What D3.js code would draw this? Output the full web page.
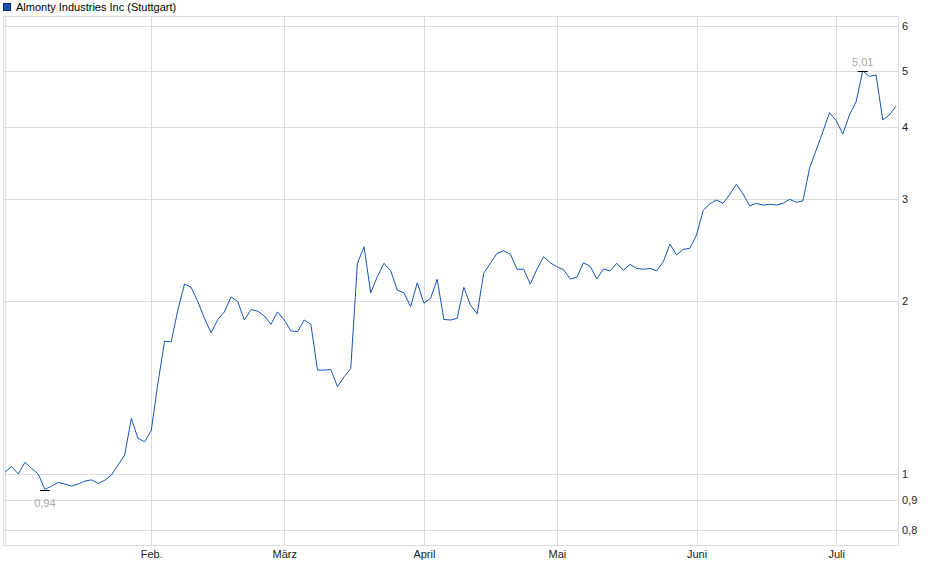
<!DOCTYPE html>
<html>
<head>
<meta charset="utf-8">
<script src="https://cdn.jsdelivr.net/npm/d3@7"></script>
<style>
  body { margin: 0; background: #fff; }
  svg { font-family: "Liberation Sans", Arial, sans-serif; }
</style>
</head>
<body>
<div id="chart-container"></div>
<script>
// Trading-day closes, 2 Jan 2025 .. 14 Jul 2025 (EUR)
const prices = [
  1.007, 1.031, 1.0, 1.048, 1.023, 1.0, 0.94, 0.953, 0.967, 0.961,
  0.953, 0.961, 0.972, 0.977, 0.963, 0.975, 0.996, 1.036, 1.079, 1.249,
  1.153, 1.138, 1.19, 1.44, 1.7, 1.697, 1.927, 2.137, 2.109, 1.993,
  1.863, 1.759, 1.855, 1.912, 2.03, 1.993, 1.851, 1.93, 1.918, 1.881,
  1.82, 1.912, 1.851, 1.772, 1.767, 1.851, 1.82, 1.515, 1.515, 1.519,
  1.418, 1.475, 1.525, 2.322, 2.481, 2.064, 2.201, 2.322, 2.254, 2.086,
  2.064, 1.952, 2.148, 1.98, 2.017, 2.178, 1.855, 1.851, 1.863, 2.109,
  1.965, 1.896, 2.231, 2.322, 2.416, 2.44, 2.41, 2.267, 2.267, 2.137,
  2.267, 2.384, 2.327, 2.289, 2.264, 2.18, 2.196, 2.327, 2.295, 2.181,
  2.27, 2.252, 2.322, 2.258, 2.312, 2.275, 2.267, 2.275, 2.252, 2.335,
  2.508, 2.401, 2.455, 2.465, 2.6, 2.87, 2.945, 2.99, 2.951, 3.059,
  3.184, 3.063, 2.919, 2.951, 2.93, 2.94, 2.93, 2.951, 2.999, 2.963,
  2.98, 3.394, 3.652, 3.93, 4.24, 4.106, 3.894, 4.2, 4.43, 5.01,
  4.9, 4.93, 4.12, 4.2, 4.35
];

// first trading day of each month (index into prices)
const monthIndex = [0, 22, 42, 63, 83, 104, 125];
const monthLabels = ["", "Feb.", "März", "April", "Mai", "Juni", "Juli"];

const yTicks = [0.8, 0.9, 1, 2, 3, 4, 5, 6];

const title = "Almonty Industries Inc (Stuttgart)";

const width = 940;
const height = 579;
const plot = { left: 3, right: 898, top: 16, bottom: 545 };

const de = d3.formatLocale({ decimal: ",", thousands: ".", grouping: [3], currency: ["", " €"] });
const fmtTick = de.format("~g");
const fmtPrice = de.format(".2f");

const svg = d3
  .select("#chart-container")
  .append("svg")
  .attr("width", width)
  .attr("height", height);

const x = d3.scaleLinear().domain([-0.3, prices.length - 0.7]).range([plot.left, plot.right]);
const y = d3.scaleLog().domain([0.753, 6.24]).range([plot.bottom, plot.top]);

const gridColor = "#dcdcdc";

// horizontal grid
svg
  .append("g")
  .selectAll("line")
  .data(yTicks)
  .enter()
  .append("line")
  .attr("x1", plot.left)
  .attr("x2", plot.right)
  .attr("y1", (d) => Math.round(y(d)) + 0.5)
  .attr("y2", (d) => Math.round(y(d)) + 0.5)
  .style("stroke", gridColor);

// vertical grid
svg
  .append("g")
  .selectAll("line")
  .data(monthIndex)
  .enter()
  .append("line")
  .attr("x1", (d) => Math.round(x(d)) + 0.5)
  .attr("x2", (d) => Math.round(x(d)) + 0.5)
  .attr("y1", plot.top)
  .attr("y2", plot.bottom)
  .style("stroke", gridColor);

// frame
svg
  .append("rect")
  .attr("x", plot.left + 0.5)
  .attr("y", plot.top + 0.5)
  .attr("width", plot.right - plot.left)
  .attr("height", plot.bottom - plot.top)
  .style("fill", "none")
  .style("stroke", gridColor);

// y axis (right)
const yAxis = d3.axisRight(y).tickValues(yTicks).tickFormat(fmtTick).tickSize(0).tickPadding(4);
svg
  .append("g")
  .attr("transform", `translate(${plot.right},0)`)
  .call(yAxis)
  .call((g) => g.select(".domain").remove())
  .selectAll("text")
  .style("font-size", "11px")
  .style("fill", "#222")
  .attr("font-family", null);

// x axis (bottom)
const xAxis = d3
  .axisBottom(x)
  .tickValues(monthIndex)
  .tickFormat((d, i) => monthLabels[i])
  .tickSize(0)
  .tickPadding(5);
svg
  .append("g")
  .attr("transform", `translate(0,${plot.bottom})`)
  .call(xAxis)
  .call((g) => g.select(".domain").remove())
  .selectAll("text")
  .style("font-size", "11px")
  .style("fill", "#222")
  .attr("font-family", null);

// price line
const line = d3
  .line()
  .x((d, i) => x(i))
  .y((d) => y(d));

svg
  .append("path")
  .datum(prices)
  .attr("d", line)
  .style("fill", "none")
  .style("stroke", "#1553b8")
  .style("stroke-width", 1);

// min / max markers
const iMin = d3.minIndex(prices);
const iMax = d3.maxIndex(prices);
const marks = [
  { i: iMin, dy: 16 },
  { i: iMax, dy: -6 },
];

marks.forEach((m) => {
  const cx = x(m.i);
  const cy = Math.round(y(prices[m.i])) + 0.5;
  svg
    .append("line")
    .attr("x1", cx - 5)
    .attr("x2", cx + 5)
    .attr("y1", cy)
    .attr("y2", cy)
    .style("stroke", "#000");
  svg
    .append("text")
    .attr("x", cx)
    .attr("y", cy + m.dy)
    .attr("text-anchor", "middle")
    .style("font-size", "11px")
    .style("fill", "#a8a8a8")
    .text(fmtPrice(prices[m.i]));
});

// legend
svg
  .append("rect")
  .attr("x", 3.5)
  .attr("y", 3.5)
  .attr("width", 7)
  .attr("height", 7)
  .style("fill", "#1553b8")
  .style("stroke", "#0b2a66");

svg
  .append("text")
  .attr("x", 16)
  .attr("y", 11)
  .style("font-size", "11px")
  .style("fill", "#000")
  .text(title);
</script>
</body>
</html>
